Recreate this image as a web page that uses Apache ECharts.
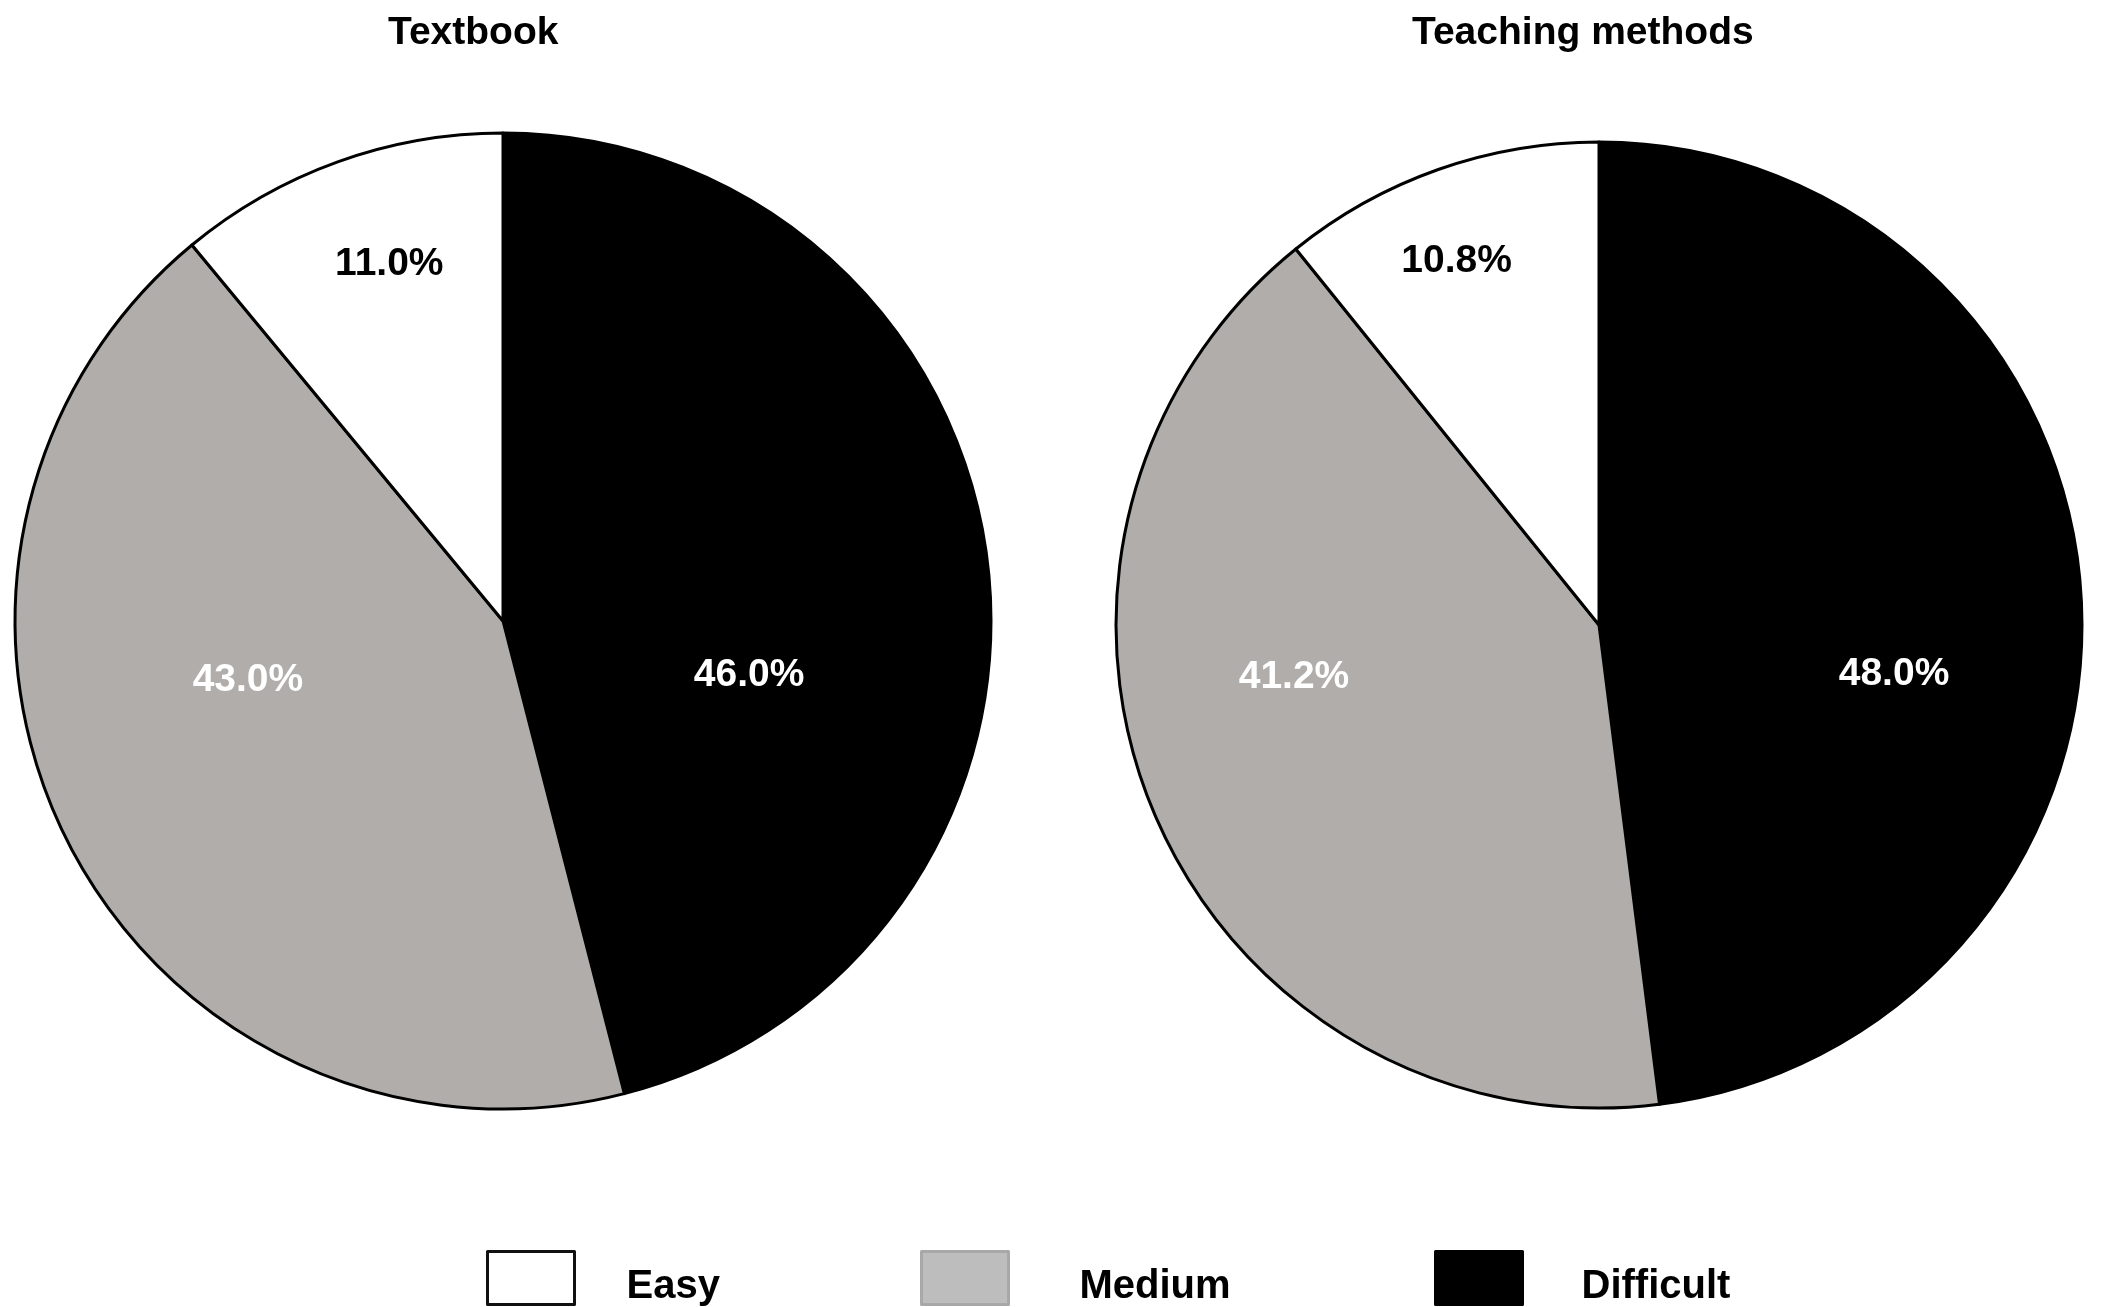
<!DOCTYPE html>
<html>
<head>
<meta charset="utf-8">
<script src="https://cdn.jsdelivr.net/npm/echarts@6/dist/echarts.min.js"></script>
<style>
html,body{margin:0;padding:0;background:#fff;}
#chart{width:2101px;height:1307px;}
</style>
</head>
<body>
<div id="chart"></div>
<script>
// ---- data ----
const categories = ['Difficult', 'Medium', 'Easy'];
const textbookValues = [46.0, 43.0, 11.0];
const teachingValues = [48.0, 41.2, 10.8];
const chartTitles = ['Textbook', 'Teaching methods'];
const legendNames = ['Easy', 'Medium', 'Difficult'];

// ---- styles / layout ----
const FONT = 'Liberation Sans, Arial, Helvetica, sans-serif';
const sliceColors = { Difficult: '#000000', Medium: '#b0adab', Easy: '#ffffff' };
const labelColors = { Difficult: '#ffffff', Medium: '#ffffff', Easy: '#000000' };
const labelOffsets = [
  { Difficult: [1, 85], Medium: [-35, -53], Easy: [-30, -124] },
  { Difficult: [51, 65], Medium: [-80, -43], Easy: [-61, -133] }
];
const pieLayout = [
  { center: [503, 621], radius: 488 },
  { center: [1599, 625], radius: 483 }
];
const legendLayout = {
  Easy:      { left: 486, textPad: 47, fill: '#ffffff', border: '#111111' },
  Medium:    { left: 920, textPad: 66, fill: '#bdbdbd', border: '#a8a8a8' },
  Difficult: { left: 1434, textPad: 54, fill: '#000000', border: '#000000' }
};
const titleLeft = [388, 1412];

function buildSeries(idx, values) {
  return {
    type: 'pie',
    name: chartTitles[idx],
    center: pieLayout[idx].center,
    radius: pieLayout[idx].radius,
    startAngle: 90,
    clockwise: true,
    animation: false,
    emphasis: { disabled: true },
    itemStyle: { borderColor: '#000', borderWidth: 3 },
    labelLine: { show: false },
    data: categories.map((c, i) => ({
      name: c,
      value: values[i],
      itemStyle: { color: sliceColors[c] },
      label: {
        show: true,
        position: 'inside',
        offset: labelOffsets[idx][c],
        color: labelColors[c],
        fontFamily: FONT,
        fontWeight: 'bold',
        fontSize: 39,
        formatter: p => p.value.toFixed(1) + '%'
      }
    }))
  };
}

const chart = echarts.init(document.getElementById('chart'), null, { renderer: 'canvas' });
chart.setOption({
  backgroundColor: '#ffffff',
  animation: false,
  title: chartTitles.map((t, i) => ({
    text: t,
    left: titleLeft[i],
    top: 14,
    padding: 0,
    textStyle: { fontFamily: FONT, fontWeight: 'bold', fontSize: 39, color: '#000' }
  })),
  legend: legendNames.map(n => ({
    left: legendLayout[n].left,
    top: 1250,
    padding: 0,
    orient: 'horizontal',
    selectedMode: false,
    icon: 'rect',
    itemWidth: 87,
    itemHeight: 53,
    data: [{
      name: n,
      itemStyle: { color: legendLayout[n].fill, borderColor: legendLayout[n].border, borderWidth: 3 }
    }],
    formatter: name => '{t|' + name + '}',
    textStyle: {
      fontFamily: FONT, fontWeight: 'bold', fontSize: 40, color: '#000',
      rich: {
        t: {
          fontFamily: FONT, fontWeight: 'bold', fontSize: 40, color: '#000',
          padding: [18, 0, 0, legendLayout[n].textPad]
        }
      }
    }
  })),
  series: [buildSeries(0, textbookValues), buildSeries(1, teachingValues)]
});
</script>
</body>
</html>
